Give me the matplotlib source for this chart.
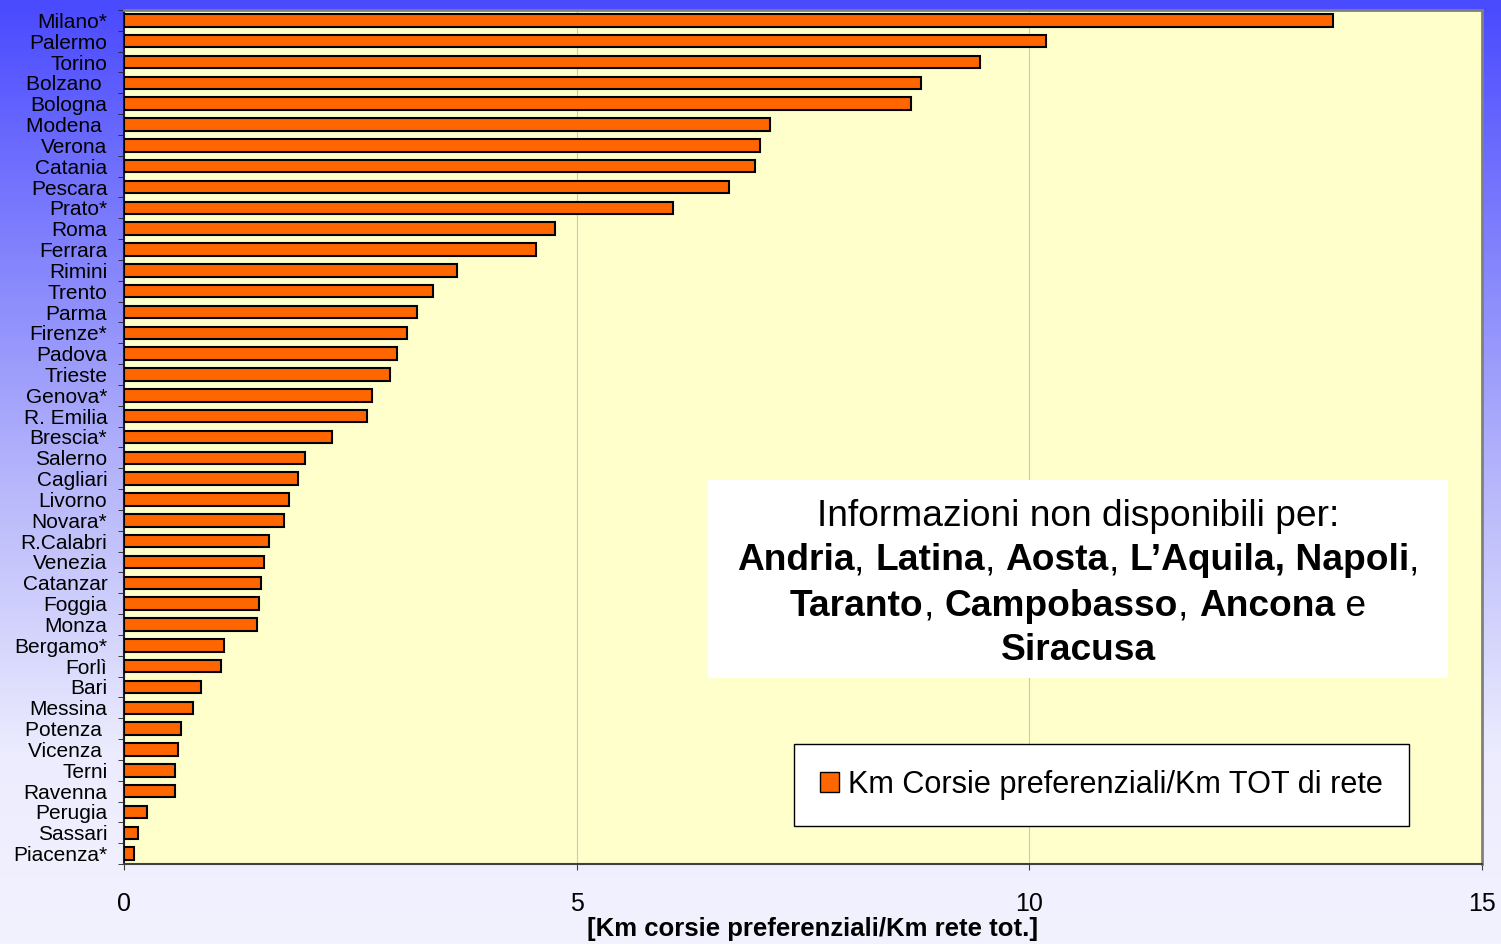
import numpy as np
import matplotlib.pyplot as plt
from matplotlib.colors import LinearSegmentedColormap
from matplotlib.patches import Patch

plt.rcParams['font.family'] = ['Liberation Sans', 'DejaVu Sans']

cities = ['Milano*', 'Palermo', 'Torino', 'Bolzano ', 'Bologna', 'Modena ', 'Verona', 'Catania',
          'Pescara', 'Prato*', 'Roma', 'Ferrara', 'Rimini', 'Trento', 'Parma', 'Firenze*',
          'Padova', 'Trieste', 'Genova*', 'R. Emilia', 'Brescia*', 'Salerno', 'Cagliari',
          'Livorno', 'Novara*', 'R.Calabri', 'Venezia', 'Catanzar', 'Foggia', 'Monza',
          'Bergamo*', 'Forlì', 'Bari', 'Messina', 'Potenza ', 'Vicenza ', 'Terni', 'Ravenna',
          'Perugia', 'Sassari', 'Piacenza*']
values = [13.35, 10.18, 9.46, 8.80, 8.69, 7.14, 7.03, 6.97, 6.68, 6.06, 4.76, 4.55, 3.68,
          3.41, 3.24, 3.13, 3.02, 2.94, 2.74, 2.68, 2.30, 2.00, 1.92, 1.82, 1.77, 1.60, 1.55,
          1.51, 1.49, 1.47, 1.10, 1.07, 0.85, 0.76, 0.63, 0.60, 0.56, 0.56, 0.25, 0.15, 0.11]
xticks = [0, 5, 10, 15]
legend_label = 'Km Corsie preferenziali/Km TOT di rete'
note_lines = [
    [('Informazioni non disponibili per:', 'normal')],
    [('Andria', 'bold'), (', ', 'normal'), ('Latina', 'bold'), (', ', 'normal'), ('Aosta', 'bold'),
     (', ', 'normal'), ('L\u2019Aquila, Napoli', 'bold'), (',', 'normal')],
    [('Taranto', 'bold'), (', ', 'normal'), ('Campobasso', 'bold'), (', ', 'normal'),
     ('Ancona', 'bold'), (' e', 'normal')],
    [('Siracusa', 'bold')],
]

W, H = 1501, 944
fig = plt.figure(figsize=(W / 100, H / 100), dpi=100)

# gradient background
bg = fig.add_axes([0, 0, 1, 1], zorder=-10)
cmap = LinearSegmentedColormap.from_list('bg', [(0, '#4a4aff'), (0.5, '#b4b4fb'), (0.8, '#ececfe'), (1, '#f2f2ff')])
grad = np.linspace(0, 1, 256).reshape(-1, 1)
bg.imshow(grad, aspect='auto', cmap=cmap, extent=[0, 1, 1, 0])
bg.axis('off')

ax = fig.add_axes([124 / W, 1 - 864 / H, (1482 - 124) / W, (864 - 10) / H])
ax.set_facecolor('#ffffcc')

y = np.arange(len(cities))
ax.barh(y, values, height=0.6, color='#ff6600', edgecolor='black', linewidth=1.5, zorder=3,
        label=legend_label)
ax.set_ylim(len(cities) - 0.5, -0.5)
ax.set_xlim(0, 15)
ax.set_xticks(xticks)
ax.set_xticklabels([str(t) for t in xticks], fontsize=18)
ax.tick_params(axis='x', direction='out', length=4.5, pad=16, color='#404040')
ax.set_yticks(y)
ax.set_yticklabels(cities, fontsize=15)
ax.set_yticks(np.arange(len(cities) + 1) - 0.5, minor=True)
ax.tick_params(axis='y', which='major', length=0, pad=12)
ax.tick_params(axis='y', which='minor', direction='out', length=4.5, color='#202020')
ax.xaxis.grid(True, color='#c8c8c8', linewidth=0.8, zorder=0)
ax.set_axisbelow(True)
for s in ['top', 'right']:
    ax.spines[s].set_color('#808080')
    ax.spines[s].set_linewidth(2)
ax.spines['left'].set_color('#202020')
ax.spines['left'].set_linewidth(1.5)
ax.spines['bottom'].set_color('#404040')
ax.spines['bottom'].set_linewidth(1.5)
ax.set_xlabel('[Km corsie preferenziali/Km rete tot.]', fontsize=18.5, fontweight='bold')
ax.xaxis.set_label_coords((813 - 124) / 1358, (864 - 917) / 854)

# note box
bx0, bx1, by0, by1 = 708, 1448, 480, 678
fig.patches.append(plt.Rectangle((bx0 / W, 1 - by1 / H), (bx1 - bx0) / W, (by1 - by0) / H,
                                 transform=fig.transFigure, facecolor='white', edgecolor='none', zorder=5))
renderer = fig.canvas.get_renderer()
cx = (bx0 + bx1) / 2
line_y = [516, 561, 606, 651]
for parts, ly in zip(note_lines, line_y):
    texts = [fig.text(0, 1 - ly / H, p, fontsize=26.7, fontweight=w, va='center', ha='left', zorder=6)
             for p, w in parts]
    widths = [t.get_window_extent(renderer).width for t in texts]
    x = cx - sum(widths) / 2
    for t, wd in zip(texts, widths):
        t.set_x(x / W)
        x += wd

leg = ax.legend(handles=[Patch(facecolor='#ff6600', edgecolor='black', label=legend_label)],
                loc='center', bbox_to_anchor=(1101.5 / W, 1 - 785 / H), bbox_transform=fig.transFigure,
                fontsize=22.1, fancybox=False, framealpha=1, edgecolor='black', borderpad=0.85,
                handlelength=0.6, handleheight=0.6, handletextpad=0.3)
leg.get_frame().set_linewidth(1)
leg.set_zorder(7)

fig.savefig('out.png', dpi=100)
